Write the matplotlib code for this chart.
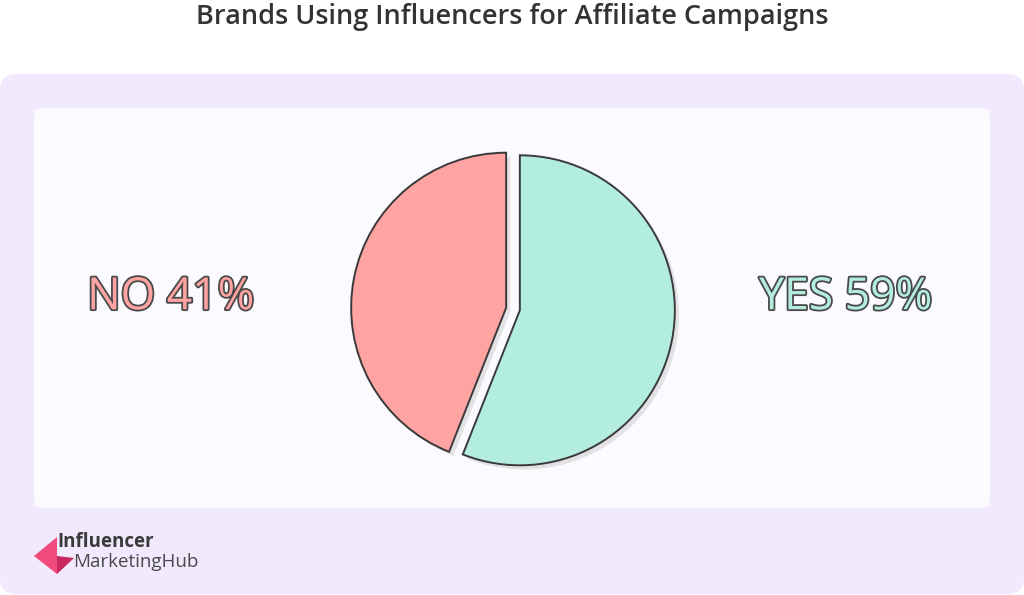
import matplotlib.pyplot as plt
import matplotlib.patheffects as pe
from matplotlib.patches import FancyBboxPatch, Polygon

# data
answers = ["YES", "NO"]
label_pct = [59, 41]          # percentages printed on the chart
wedge_share = [56, 44]        # slice sizes as drawn in the picture
slice_colors = ["#B3EDDF", "#FFA3A3"]
title = "Brands Using Influencers for Affiliate Campaigns"

W, H = 1024, 595
fig = plt.figure(figsize=(W / 100, H / 100), dpi=100)
fig.patch.set_facecolor("white")

# background layer in pixel coordinates
bg = fig.add_axes([0, 0, 1, 1])
bg.set_xlim(0, W)
bg.set_ylim(H, 0)
bg.axis("off")

bg.add_patch(FancyBboxPatch((0, 74), W, 520, boxstyle="round,pad=0,rounding_size=16",
                            fc="#F1E9FD", ec="none"))
bg.add_patch(FancyBboxPatch((34, 108), 956, 400, boxstyle="round,pad=0,rounding_size=8",
                            fc="#FBFAFE", ec="none"))

bg.text(W / 2, 17, title, ha="center", va="center", fontsize=19.5,
        family="Open Sans", fontweight="semibold", color="#333333")

outline = [pe.withStroke(linewidth=2.6, foreground="#4a4a4a")]
bg.text(171, 298, f"{answers[1]} {label_pct[1]}%", ha="center", va="center",
        fontsize=32, family="Open Sans", fontweight="medium",
        color=slice_colors[1], path_effects=outline)
bg.text(846, 298, f"{answers[0]} {label_pct[0]}%", ha="center", va="center",
        fontsize=32, family="Open Sans", fontweight="medium",
        color=slice_colors[0], path_effects=outline)

# logo
bg.add_patch(Polygon([(57, 537), (34, 556), (57, 574), (57, 556)], closed=True,
                     fc="#F04B7C", ec="none"))
bg.add_patch(Polygon([(57, 556), (74, 558), (57, 574)], closed=True,
                     fc="#C8285E", ec="none"))
bg.text(57, 542, "Influencer", ha="left", va="center", fontsize=13.5,
        family="Open Sans", fontweight="bold", color="#3a3a3a")
bg.text(73, 562, "MarketingHub", ha="left", va="center", fontsize=13.5,
        family="Open Sans", color="#4a4a4a")

# pie
cx, cy, r = 513, 309, 155
half = r * 1.2
ax = fig.add_axes([(cx - half) / W, (H - cy - half) / H, 2 * half / W, 2 * half / H])
ax.set_aspect("equal")
ax.axis("off")

shadow = [pe.SimplePatchShadow(offset=(3, -3), shadow_rgbFace="#999999", alpha=0.25),
          pe.Normal()]
ax.pie(wedge_share, colors=slice_colors, startangle=90, counterclock=False,
       explode=[0.045, 0.045],
       wedgeprops=dict(edgecolor="#3a3a3a", linewidth=1.4, path_effects=shadow))
ax.set_xlim(-1.2, 1.2)
ax.set_ylim(-1.2, 1.2)

fig.savefig("out.png", dpi=100)
